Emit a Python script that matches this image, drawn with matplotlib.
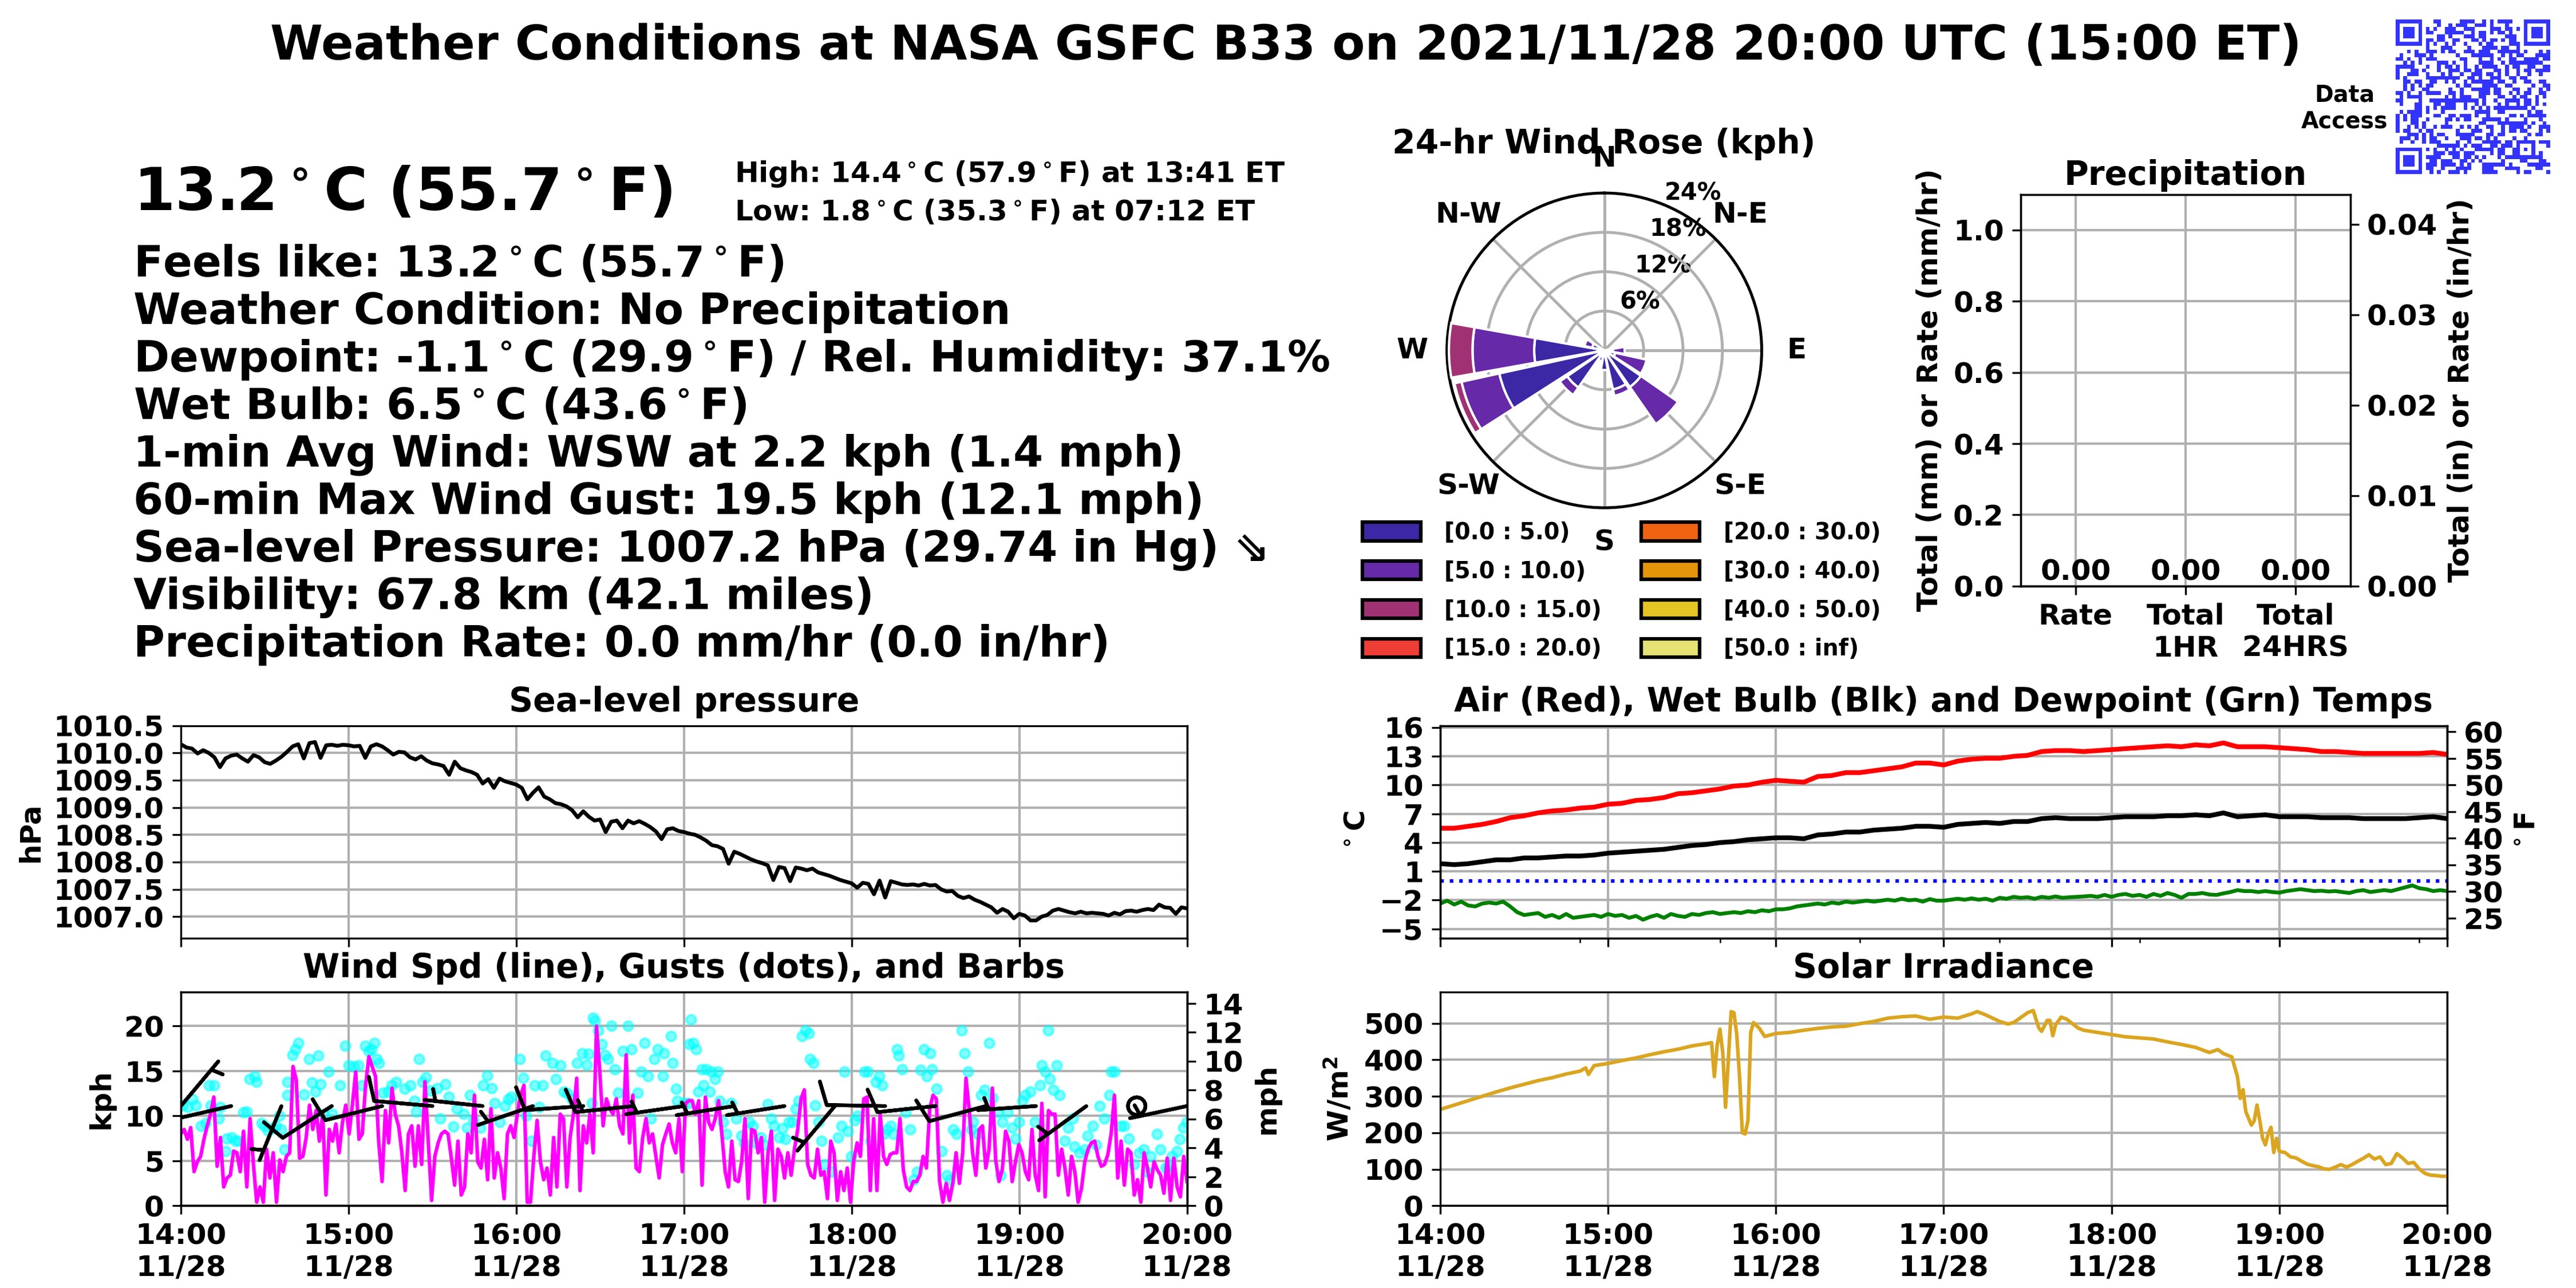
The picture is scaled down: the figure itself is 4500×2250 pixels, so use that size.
import hashlib
import numpy as np
import pandas as pd
import matplotlib
matplotlib.use('Agg')
import matplotlib.pyplot as plt
import matplotlib.dates as mdates
from matplotlib.patches import Patch
from matplotlib.colors import ListedColormap

plt.rcParams['font.family'] = ['DejaVu Sans']
plt.rcParams['font.weight'] = 'bold'
plt.rcParams['axes.titleweight'] = 'bold'
plt.rcParams['axes.labelweight'] = 'bold'
plt.rcParams['font.size'] = 12
plt.rcParams['axes.titlesize'] = 14
plt.rcParams['grid.color'] = '#b0b0b0'
plt.rcParams['grid.linewidth'] = 1.0

T0 = pd.Timestamp('2021-11-28 14:00')

# ---- data ----
# sea-level pressure (hPa), every 2 min from 14:00
pres_hpa = [
    1010.16, 1010.10, 1010.08, 1009.99, 1010.05, 1010.00, 1009.92, 1009.74, 1009.90, 1009.95,
    1009.97, 1009.90, 1009.84, 1009.96, 1009.92, 1009.83, 1009.80, 1009.86, 1009.93, 1010.02,
    1010.12, 1010.16, 1009.90, 1010.18, 1010.20, 1009.91, 1010.14, 1010.15, 1010.13, 1010.15,
    1010.14, 1010.12, 1010.13, 1009.91, 1010.12, 1010.16, 1010.12, 1010.05, 1009.97, 1010.02,
    1010.01, 1009.92, 1009.88, 1009.94, 1009.86, 1009.81, 1009.79, 1009.76, 1009.60, 1009.84,
    1009.72, 1009.68, 1009.65, 1009.60, 1009.44, 1009.52, 1009.36, 1009.53, 1009.48, 1009.45,
    1009.42, 1009.36, 1009.15, 1009.27, 1009.37, 1009.20, 1009.15, 1009.08, 1009.06, 1009.02,
    1008.95, 1008.82, 1008.93, 1008.83, 1008.76, 1008.78, 1008.55, 1008.74, 1008.76, 1008.62,
    1008.76, 1008.71, 1008.75, 1008.70, 1008.64, 1008.56, 1008.42, 1008.60, 1008.62, 1008.57,
    1008.55, 1008.52, 1008.50, 1008.45, 1008.39, 1008.31, 1008.29, 1008.24, 1007.97, 1008.19,
    1008.15, 1008.10, 1008.05, 1008.01, 1007.98, 1007.94, 1007.67, 1007.91, 1007.89, 1007.65,
    1007.90, 1007.88, 1007.85, 1007.88, 1007.81, 1007.78, 1007.75, 1007.71, 1007.67, 1007.64,
    1007.61, 1007.53, 1007.62, 1007.60, 1007.41, 1007.66, 1007.35, 1007.65, 1007.62, 1007.59,
    1007.58, 1007.59, 1007.57, 1007.60, 1007.57, 1007.58, 1007.50, 1007.46, 1007.47, 1007.38,
    1007.34, 1007.37, 1007.31, 1007.27, 1007.22, 1007.17, 1007.07, 1007.14, 1007.09, 1006.97,
    1007.05, 1007.02, 1006.93, 1006.93, 1007.00, 1007.03, 1007.11, 1007.14, 1007.11, 1007.08,
    1007.06, 1007.09, 1007.06, 1007.07, 1007.06, 1007.05, 1007.02, 1007.07, 1007.04, 1007.10,
    1007.11, 1007.09, 1007.12, 1007.14, 1007.12, 1007.22, 1007.17, 1007.16, 1007.05, 1007.17,
    1007.15]

# air and wet bulb temperature (C), every 5 min
air_c = [
    5.5, 5.5, 5.7, 5.9, 6.2, 6.6, 6.8, 7.1, 7.3, 7.4, 7.6, 7.7,
    8.0, 8.1, 8.4, 8.5, 8.7, 9.1, 9.2, 9.4, 9.6, 9.9, 10.0, 10.3,
    10.5, 10.4, 10.3, 10.9, 11.0, 11.3, 11.3, 11.5, 11.7, 11.9, 12.3, 12.3,
    12.1, 12.5, 12.7, 12.8, 12.8, 13.0, 13.1, 13.5, 13.6, 13.6, 13.5, 13.6,
    13.7, 13.8, 13.9, 14.0, 14.1, 14.0, 14.2, 14.1, 14.4, 14.0, 14.0, 14.0,
    13.9, 13.8, 13.7, 13.5, 13.5, 13.4, 13.3, 13.3, 13.3, 13.3, 13.3, 13.4,
    13.2]
wetbulb_c = [
    1.8, 1.7, 1.8, 2.0, 2.2, 2.2, 2.4, 2.4, 2.5, 2.6, 2.6, 2.7,
    2.9, 3.0, 3.1, 3.2, 3.3, 3.5, 3.7, 3.8, 4.0, 4.1, 4.3, 4.4,
    4.5, 4.5, 4.4, 4.8, 4.9, 5.1, 5.1, 5.3, 5.4, 5.5, 5.7, 5.7,
    5.6, 5.9, 6.0, 6.1, 6.0, 6.2, 6.2, 6.5, 6.6, 6.5, 6.5, 6.5,
    6.6, 6.7, 6.7, 6.7, 6.8, 6.8, 6.9, 6.8, 7.1, 6.7, 6.8, 6.9,
    6.7, 6.7, 6.7, 6.6, 6.6, 6.6, 6.5, 6.5, 6.5, 6.5, 6.6, 6.7,
    6.5]
# dewpoint (C), every 2.5 min
dew_c = [
    -2.36, -2.06, -2.46, -2.16, -2.56, -2.66, -2.36, -2.26, -2.36, -2.16, -2.66, -3.26,
    -3.56, -3.45, -3.35, -3.75, -3.55, -3.85, -3.45, -3.85, -3.75, -3.65, -3.55, -3.75,
    -3.45, -3.65, -3.55, -3.85, -3.65, -4.05, -3.75, -3.55, -3.85, -3.45, -3.65, -3.75,
    -3.45, -3.55, -3.35, -3.26, -3.45, -3.35, -3.26, -3.35, -3.16, -3.26, -3.06, -3.16,
    -2.96, -2.96, -2.86, -2.66, -2.56, -2.46, -2.36, -2.46, -2.26, -2.36, -2.16, -2.26,
    -2.16, -2.06, -2.16, -2.06, -1.96, -2.06, -1.86, -2.02, -1.96, -2.16, -1.90, -2.06,
    -2.06, -1.96, -1.86, -1.96, -1.82, -1.96, -1.86, -2.06, -1.76, -1.86, -1.66, -1.76,
    -1.70, -1.86, -1.66, -1.76, -1.62, -1.76, -1.70, -1.66, -1.62, -1.56, -1.66, -1.46,
    -1.66, -1.46, -1.36, -1.56, -1.46, -1.66, -1.36, -1.56, -1.26, -1.46, -1.76, -1.36,
    -1.36, -1.26, -1.42, -1.46, -1.30, -1.16, -0.96, -1.06, -1.06, -1.16, -1.06, -1.16,
    -1.22, -1.06, -0.96, -0.86, -0.96, -1.06, -1.02, -1.10, -1.06, -1.16, -1.26, -1.06,
    -0.96, -1.16, -1.06, -0.96, -1.06, -0.86, -0.67, -0.47, -0.76, -0.86, -1.06, -0.96,
    -1.06]

# solar irradiance (W/m2) at minutes after 14:00
solar_min = [
    0, 5, 10, 15, 20, 25, 30, 35, 40, 45, 50, 52, 53, 55, 60, 65, 70, 75, 80, 85,
    90, 95, 97, 98, 99, 100, 101, 102, 103, 104, 105, 106, 107, 108, 109, 110, 111, 112, 114, 116,
    120, 125, 130, 135, 140, 145, 150, 155, 160, 165, 170, 175, 180, 185, 190, 192, 195, 200, 203, 205,
    210, 212, 214, 215, 217, 218, 219, 220, 222, 224, 226, 228, 230, 235, 240, 245, 250, 255, 260, 265,
    270, 275, 278, 280, 283, 285, 286, 287, 288, 290, 291, 292, 293, 294, 295, 296, 297, 298, 299, 300,
    302, 304, 306, 308, 310, 312, 314, 316, 318, 320, 322, 324, 326, 328, 330, 332, 334, 336, 338, 340,
    342, 344, 346, 348, 350, 352, 354, 356, 358, 360]
solar_wm2 = [
    264, 276, 288, 300, 312, 323, 333, 343, 351, 361, 369, 378, 360, 384, 390, 398, 405, 414, 422, 429,
    438, 444, 447, 354, 440, 484, 420, 270, 400, 532, 529, 470, 354, 200, 197, 233, 475, 502, 487, 464,
    472, 475, 481, 486, 490, 492, 499, 505, 514, 518, 520, 511, 517, 514, 526, 532, 523, 505, 498, 502,
    529, 535, 487, 478, 508, 508, 466, 496, 517, 511, 499, 487, 481, 475, 469, 463, 460, 457, 449, 442,
    434, 420, 428, 417, 408, 354, 294, 318, 258, 221, 233, 276, 233, 185, 167, 197, 215, 146, 185, 149,
    146, 134, 131, 122, 114, 110, 107, 101, 100, 106, 113, 106, 113, 122, 130, 140, 128, 134, 113, 116,
    143, 131, 116, 119, 101, 89, 84, 83, 81, 81]

# 1-min average wind speed (kph), evenly spaced 14:00-20:00
wind_kph = [
    8.0, 8.5, 7.4, 8.7, 3.8, 4.9, 5.5, 7.4, 8.9, 10.2, 12.1, 4.4, 7.6, 2.1, 3.1, 3.4, 6.1, 5.9, 3.8, 8.3,
    2.1, 9.7, 4.6, 0.4, 2.1, 0.4, 6.3, 3.1, 5.9, 0.4, 5.1, 3.8, 5.5, 5.9, 15.5, 14.0, 5.3, 5.5, 7.6, 11.2,
    8.5, 10.6, 7.2, 10.2, 1.2, 8.5, 7.2, 9.1, 5.9, 9.3, 11.2, 8.0, 11.2, 14.9, 7.4, 8.0, 13.4, 16.6, 15.5, 14.4,
    7.0, 2.7, 10.6, 7.0, 13.1, 10.2, 8.9, 5.9, 1.7, 8.0, 8.9, 4.4, 8.9, 4.6, 13.8, 7.2, 0.6, 5.5, 7.0, 8.0,
    8.3, 8.0, 5.3, 2.3, 7.2, 1.2, 2.1, 8.0, 5.9, 12.3, 4.9, 4.2, 7.4, 2.9, 10.8, 3.1, 5.9, 4.2, 0.8, 8.0,
    8.9, 7.6, 10.2, 12.3, 13.4, 0.4, 0.4, 5.5, 9.5, 4.9, 2.9, 4.2, 1.2, 7.6, 2.1, 10.2, 9.7, 2.1, 7.6, 10.2,
    14.2, 1.7, 8.9, 7.0, 10.2, 5.9, 20.0, 14.9, 8.9, 11.9, 10.8, 10.2, 11.9, 8.9, 8.0, 16.8, 7.0, 12.3, 4.2, 3.8,
    7.6, 9.7, 7.0, 8.0, 5.5, 3.1, 6.8, 8.0, 9.1, 7.0, 5.9, 9.7, 3.8, 11.4,
    11.7, 11.7, 10.2, 11.7, 2.3, 12.1, 9.3, 8.5, 9.7, 11.7, 8.0, 3.8, 2.1, 7.2, 2.9, 2.7, 4.9, 9.7, 0.8, 8.5,
    8.3, 5.9, 7.6, 0.4, 5.9, 8.3, 0.6, 6.3, 5.5, 3.1, 5.9, 3.4, 6.3, 8.5, 11.9, 12.9, 4.6, 3.4, 3.1, 6.3,
    3.4, 3.8, 0.8, 7.2, 5.9, 0.6, 3.8, 1.7, 4.2, 0.4, 5.1, 7.0, 5.5, 11.9, 12.1, 1.7, 9.7, 1.7, 10.2, 5.5,
    4.6, 5.7, 5.9, 5.9, 9.7, 4.0, 2.1, 1.7, 2.7, 2.7, 3.4, 5.5, 4.2, 10.8, 12.3, 11.9, 2.7, 0.4, 2.5, 0.6,
    2.5, 5.9, 2.5, 5.9, 14.2, 10.6, 5.9, 3.4, 8.5, 8.9, 4.2, 6.3, 13.1, 5.1, 2.7, 4.0, 8.3, 7.2, 2.7, 4.9,
    6.8, 5.9, 3.8, 2.9, 8.5, 3.4, 1.7, 11.4, 1.0, 10.6, 10.2, 10.2, 3.4, 6.3, 4.2, 1.2, 5.5, 3.8, 0.4, 1.9,
    4.9, 6.3, 7.0, 7.2, 5.5, 4.4, 4.6, 5.7, 8.0, 12.3, 3.1, 7.2, 2.3, 6.3, 5.9, 1.2, 2.9, 0.4, 5.9, 4.2,
    2.1, 4.9, 4.0, 3.4, 1.4, 5.3, 0.6, 5.3, 2.1, 1.0, 5.5, 2.7]

# wind gusts (kph) at minutes after 14:00
gust_min = [
    0.6, 2.4, 4.1, 5.3, 7.1, 8.8, 10.0, 10.6, 12.0, 13.5, 14.1, 15.9, 16.5, 18.2, 19.4, 20.6, 22.4, 23.5, 24.7, 26.5,
    27.1, 28.8, 30.0, 31.2, 32.9, 34.1, 35.3, 35.9, 37.1, 38.2, 38.2, 40.0, 40.9, 42.1, 44.1, 45.9, 47.0, 48.2, 49.2, 50.0,
    51.2, 52.9, 54.1, 57.0, 58.8, 60.0, 61.8, 63.5, 64.7, 65.9, 67.1, 68.2, 69.2, 70.0, 70.8, 72.3, 74.1, 75.3, 77.1, 80.0,
    82.1, 83.5, 84.1, 85.3, 86.5, 87.6, 89.4, 91.8, 92.9, 94.7, 95.9, 97.6, 98.8, 101.2, 102.4, 103.5, 104.7, 107.1, 108.2, 109.6,
    111.2, 112.3, 114.1, 115.9, 117.1, 118.2, 121.2, 122.4, 123.5, 125.3, 126.5, 128.2, 129.4, 130.4, 132.9, 134.1, 135.9, 137.1, 138.2, 140.0,
    141.8, 143.5, 145.3, 145.9, 147.1, 147.5, 148.2, 149.4, 150.6, 151.8, 152.9, 154.1, 155.3, 156.5, 158.2, 160.0, 161.2, 163.5, 164.7, 165.9,
    167.1, 168.2, 169.4, 170.6, 172.4, 172.9, 175.3, 175.9, 177.1, 177.6, 180.0, 181.8, 182.5,
    181.6, 183.4, 184.4, 185.2, 186.4, 187.0, 188.1, 189.3, 189.9, 191.1, 192.2, 192.8, 194.0, 195.2, 196.9, 198.7, 200.5, 201.6, 203.4, 204.6,
    205.8, 207.5, 208.7, 209.9, 211.1, 212.2, 214.0, 215.2, 216.3, 217.5, 218.7, 219.9, 221.0, 222.2, 223.4, 224.6, 225.2, 226.3, 226.9, 228.1,
    229.3, 230.5, 232.8, 235.2, 236.3, 237.5, 238.7, 239.9, 241.0, 242.2, 244.6, 245.7, 246.9, 248.7, 249.9, 251.0, 251.6, 252.8, 254.0, 255.1,
    256.3, 256.9, 258.1, 259.3, 261.0, 262.2, 263.4, 264.6, 265.8, 266.9, 268.1, 268.7, 270.4, 272.2, 274.0, 275.1, 276.3, 277.5, 279.3, 280.4,
    281.6, 282.8, 283.4, 285.1, 286.3, 287.5, 289.3, 290.4, 292.2, 293.4, 294.0, 295.7, 297.5, 298.7, 299.8, 301.0, 302.2, 304.0, 305.7, 307.5,
    308.1, 309.3, 310.4, 311.0, 312.2, 313.4, 314.5, 316.3, 317.5, 319.2, 319.8, 321.6, 323.4, 324.5, 326.3, 327.5, 328.7, 330.4, 332.2, 332.8,
    334.0, 336.3, 337.5, 339.2, 341.0, 342.8, 344.5, 345.7, 346.9, 349.2, 350.4, 352.2, 353.3, 354.5, 356.3, 357.5, 358.6, 359.8]
gust_kph = [
    11.2, 11.0, 11.9, 11.2, 8.9, 9.2, 13.4, 11.2, 13.4, 9.7, 11.0, 6.1, 7.5, 7.6, 7.2, 7.2, 10.4, 10.5, 14.1, 14.4,
    13.8, 9.2, 8.9, 8.4, 8.6, 8.9, 10.0, 8.5, 6.3, 13.8, 12.3, 16.8, 17.4, 18.1, 12.4, 16.3, 13.7, 12.7, 16.7, 13.5,
    10.2, 14.9, 10.2, 13.4, 17.8, 15.6, 15.5, 15.6, 13.4, 17.8, 17.2, 17.4, 18.1, 16.3, 15.9, 12.6, 12.7, 13.4, 13.8, 13.0,
    13.4, 11.7, 10.5, 16.3, 13.8, 14.3, 12.8, 13.1, 9.7, 13.5, 12.1, 8.8, 10.8, 10.2, 8.7, 12.3, 9.5, 8.7, 13.4, 14.5,
    13.1, 11.4, 9.3, 11.1, 11.9, 12.1, 16.3, 14.2, 10.0, 7.2, 13.4, 11.0, 13.4, 16.7, 15.9, 14.1, 15.6, 12.7, 12.5, 11.9,
    15.9, 17.0, 15.7, 16.9, 11.4, 20.9, 20.6, 19.5, 18.0, 16.8, 16.3, 20.0, 15.2, 12.6, 17.2, 20.0, 17.4, 12.6, 14.9, 18.1,
    14.4, 9.7, 16.3, 17.4, 14.4, 17.0, 18.9, 15.9, 13.0, 11.7, 11.4, 18.0, 20.7,
    11.4, 18.1, 17.4, 12.7, 15.2, 13.4, 15.2, 12.7, 14.9, 14.1, 14.9, 11.7, 9.3, 8.0, 11.4, 9.7, 7.8, 7.0, 9.3, 8.9,
    7.0, 7.6, 6.8, 11.3, 9.7, 8.9, 7.6, 8.6, 7.4, 9.3, 9.3, 10.8, 11.7, 18.9, 19.5, 19.2, 16.3, 15.9, 11.2, 9.3,
    7.2, 4.6, 3.8, 7.6, 8.9, 14.9, 8.3, 5.5, 9.5, 10.0, 14.9, 14.9, 7.2, 13.8, 14.4, 13.4, 8.0, 8.5, 8.9, 8.0,
    17.4, 16.7, 15.2, 10.4, 8.5, 2.9, 3.8, 15.1, 17.4, 14.4, 17.0, 15.2, 13.0, 6.1, 3.4, 2.9, 8.5, 8.0, 19.5, 17.0,
    14.9, 8.5, 9.3, 8.0, 12.3, 12.9, 18.1, 12.0, 10.4, 3.4, 9.3, 10.4, 8.7, 7.5, 9.3, 11.7, 12.3, 12.7, 9.3, 13.4,
    15.6, 14.9, 19.5, 14.1, 12.9, 15.6, 12.3, 7.2, 8.7, 9.7, 6.6, 5.9, 6.3, 7.8, 8.9, 6.8, 11.1, 9.7, 12.3, 14.9,
    14.9, 8.9, 8.9, 7.5, 4.6, 5.9, 6.3, 3.8, 5.5, 8.0, 6.3, 4.2, 4.3, 5.5, 6.1, 7.4, 8.7, 9.3]

# wind barbs every 18 min: direction wind blows from (deg) and speed (kph)
barb_min = list(range(0, 361, 18))
barb_dir = [40, 257, 202, 237, 256, 275, 276, 251, 266, 264, 262,
            261, 261, 220, 271, 264, 255, 266, 234, 0, 258]
barb_kph = [5, 10, 5, 10, 10, 10, 5, 5, 10, 15, 5,
            5, 5, 5, 10, 10, 10, 5, 5, 0, 5]
barb_level = 11.1

# 24-hr wind rose, % of time per 16 sectors (N, NNE, ... NNW)
rose_0_5 = [0, 0, 0, 0, 1.3, 1.7, 6.8, 6.1, 3.0, 1.7, 6.9, 16.4, 10.7, 1.9, 0, 0]
rose_5_10 = [0, 0, 0, 0, 1.8, 4.9, 6.9, 1.0, 0, 0, 1.4, 5.9, 9.4, 1.2, 0, 0]
rose_10_15 = [0, 0, 0, 0, 0, 0, 0, 0, 0, 0, 0, 1.1, 3.6, 0, 0, 0]
rose_bins = ['[0.0 : 5.0)', '[5.0 : 10.0)', '[10.0 : 15.0)', '[15.0 : 20.0)',
             '[20.0 : 30.0)', '[30.0 : 40.0)', '[40.0 : 50.0)', '[50.0 : inf)']
rose_colors = ['#3c27a5', '#6629a8', '#a03274', '#ee3e36',
               '#f06411', '#e5950a', '#e5c524', '#e6e274']

precip_cats = ['Rate', 'Total\n1HR', 'Total\n24HRS']
precip_mm = [0.0, 0.0, 0.0]

info_lines = [
    r'Feels like: 13.2$^\circ$C (55.7$^\circ$F)',
    'Weather Condition: No Precipitation',
    r'Dewpoint: -1.1$^\circ$C (29.9$^\circ$F) / Rel. Humidity: 37.1%',
    r'Wet Bulb: 6.5$^\circ$C (43.6$^\circ$F)',
    '1-min Avg Wind: WSW at 2.2 kph (1.4 mph)',
    '60-min Max Wind Gust: 19.5 kph (12.1 mph)',
    'Sea-level Pressure: 1007.2 hPa (29.74 in Hg) \u21d8',
    'Visibility: 67.8 km (42.1 miles)',
    'Precipitation Rate: 0.0 mm/hr (0.0 in/hr)',
]


def at(minutes):
    return T0 + pd.to_timedelta(np.asarray(minutes, dtype=float), unit='min')


def time_axis(ax, labels=True):
    ax.set_xlim(T0, T0 + pd.Timedelta(hours=6))
    ax.xaxis.set_major_locator(mdates.HourLocator())
    ax.xaxis.set_major_formatter(mdates.DateFormatter('%H:%M\n%m/%d'))
    ax.grid(True)
    if not labels:
        ax.tick_params(labelbottom=False)


fig = plt.figure(figsize=(15, 7.5), dpi=300)

fig.text(0.4991, 0.9644,
         'Weather Conditions at NASA GSFC B33 on 2021/11/28 20:00 UTC (15:00 ET)',
         ha='center', va='center', fontsize=20)

# current conditions text block
fig.text(0.0518, 0.8369, r'13.2$^\circ$C (55.7$^\circ$F)', fontsize=25, va='baseline')
fig.text(0.2851, 0.8585, r'High: 14.4$^\circ$C (57.9$^\circ$F) at 13:41 ET', fontsize=12, va='baseline')
fig.text(0.2851, 0.8288, r'Low: 1.8$^\circ$C (35.3$^\circ$F) at 07:12 ET', fontsize=12, va='baseline')
for k, line in enumerate(info_lines):
    fig.text(0.0518, 0.7855 - k * 0.03689, line, fontsize=18, va='baseline')

# QR-like "Data Access" badge
n = 41
bits = []
seed = b'gsfc-b33-weather-data-access'
while len(bits) < n * n:
    seed = hashlib.sha256(seed).digest()
    bits.extend(np.unpackbits(np.frombuffer(seed, dtype=np.uint8)).tolist())
qr = np.array(bits[:n * n]).reshape(n, n)
finder = np.ones((7, 7), int)
finder[1:6, 1:6] = 0
finder[2:5, 2:5] = 1
qr[:8, :8] = 0
qr[:8, -8:] = 0
qr[-8:, :8] = 0
qr[:7, :7] = finder
qr[:7, -7:] = finder
qr[-7:, :7] = finder
align = np.ones((5, 5), int)
align[1:4, 1:4] = 0
align[2, 2] = 1
qr[n - 9:n - 4, n - 9:n - 4] = align
ax_q = fig.add_axes([0.930, 0.865, 0.060, 0.120])
ax_q.imshow(qr, cmap=ListedColormap(['white', '#3333ff']), interpolation='nearest')
ax_q.axis('off')
fig.text(0.9102, 0.9156, 'Data\nAccess', ha='center', va='center', fontsize=9.5,
         multialignment='center')

# wind rose
ax_r = fig.add_axes([0.5617, 0.6056, 0.1222, 0.2447], projection='polar')
ax_r.set_theta_zero_location('N')
ax_r.set_theta_direction(-1)
theta = np.deg2rad(np.arange(16) * 22.5)
width = np.deg2rad(22.5) * 0.9
base = np.zeros(16)
for vals, col in zip([rose_0_5, rose_5_10, rose_10_15], rose_colors):
    vals = np.asarray(vals, dtype=float)
    keep = vals > 0
    ax_r.bar(theta[keep], vals[keep], width=width, bottom=base[keep],
             color=col, edgecolor='white', linewidth=1.0, zorder=3)
    base = base + vals
ax_r.set_xticks(np.deg2rad(np.arange(0, 360, 45)))
ax_r.set_xticklabels(['N', 'N-E', 'E', 'S-E', 'S', 'S-W', 'W', 'N-W'])
ax_r.set_ylim(0, 24)
ax_r.set_yticks([6, 12, 18, 24])
ax_r.set_yticklabels(['6%', '12%', '18%', '24%'], fontsize=10)
ax_r.set_rlabel_position(22.5)
ax_r.grid(True, color='#b0b0b0', linewidth=1.2)
ax_r.tick_params(axis='x', pad=4)
ax_r.spines['polar'].set_linewidth(1.2)
fig.text(0.6227, 0.8884, '24-hr Wind Rose (kph)', ha='center', va='center', fontsize=14)
handles = [Patch(facecolor=c, edgecolor='black', linewidth=1.5) for c in rose_colors]
fig.legend(handles, rose_bins, ncol=2, loc='upper left', bbox_to_anchor=(0.5289, 0.5950),
           frameon=False, fontsize=9.5, handlelength=2.58, handleheight=0.88,
           handletextpad=1.04, columnspacing=1.75, labelspacing=0.7,
           borderaxespad=0, borderpad=0)

# precipitation
ax_pr = fig.add_axes([0.7844, 0.5450, 0.1280, 0.3040])
bars = ax_pr.bar(range(3), precip_mm, width=0.5, color='#1f77b4', zorder=3)
ax_pr.bar_label(bars, fmt='%.2f', fontsize=12)
ax_pr.set_xticks(range(3))
ax_pr.set_xticklabels(precip_cats)
ax_pr.set_xlim(-0.5, 2.5)
ax_pr.set_ylim(0, 1.1)
ax_pr.set_yticks(np.arange(0, 1.01, 0.2))
ax_pr.set_ylabel('Total (mm) or Rate (mm/hr)')
ax_pr.set_title('Precipitation', pad=4)
ax_pr.grid(True)
ax_pr2 = ax_pr.twinx()
ax_pr2.set_ylim(0, 1.1 / 25.4)
ax_pr2.set_yticks(np.arange(0, 0.041, 0.01))
ax_pr2.yaxis.set_major_formatter('{x:.2f}')
ax_pr2.set_ylabel('Total (in) or Rate (in/hr)')

# sea-level pressure
ax_p = fig.add_axes([0.0702, 0.2714, 0.3906, 0.1652])
ax_p.plot(at(np.arange(len(pres_hpa)) * 2), pres_hpa, color='black', lw=1.6)
ax_p.set_ylim(1006.6, 1010.5)
ax_p.set_yticks(np.arange(1007.0, 1010.51, 0.5))
ax_p.yaxis.set_major_formatter('{x:.1f}')
ax_p.set_ylabel('hPa')
ax_p.set_title('Sea-level pressure')
time_axis(ax_p, labels=False)

# wind speed, gusts and barbs
ax_w = fig.add_axes([0.0702, 0.0638, 0.3906, 0.1661])
ax_w.plot(at(gust_min), gust_kph, 'o', color='cyan', alpha=0.5, ms=4, zorder=2)
ax_w.plot(at(np.linspace(0, 360, len(wind_kph))), wind_kph, color='magenta', lw=1.5, zorder=3)
bd = np.deg2rad(barb_dir)
bs = np.asarray(barb_kph, dtype=float)
ax_w.barbs(mdates.date2num(at(barb_min)), np.full(len(barb_min), barb_level),
           -bs * np.sin(bd), -bs * np.cos(bd), length=7, pivot='tip', lw=1.5, zorder=4)
ax_w.set_ylim(0, 23.8)
ax_w.set_yticks([0, 5, 10, 15, 20])
ax_w.set_ylabel('kph')
ax_w.set_title('Wind Spd (line), Gusts (dots), and Barbs')
time_axis(ax_w)
ax_w2 = ax_w.twinx()
ax_w2.set_ylim(0, 23.8 / 1.609)
ax_w2.set_yticks(range(0, 15, 2))
ax_w2.set_ylabel('mph')

# temperatures
ax_t = fig.add_axes([0.5591, 0.2714, 0.3909, 0.1652])
ax_t.plot(at(np.arange(len(air_c)) * 5), air_c, color='red', lw=2.0)
ax_t.plot(at(np.arange(len(wetbulb_c)) * 5), wetbulb_c, color='black', lw=2.0)
ax_t.plot(at(np.arange(len(dew_c)) * 2.5), dew_c, color='green', lw=1.6)
ax_t.axhline(0, color='blue', ls=':', lw=1.5)
ax_t.set_ylim(-6.0, 16.2)
ax_t.set_yticks(range(-5, 17, 3))
ax_t.set_ylabel(r'$^\circ$C')
ax_t.set_title('Air (Red), Wet Bulb (Blk) and Dewpoint (Grn) Temps')
time_axis(ax_t, labels=False)
ax_t.set_xticks(at([50, 100, 150, 200, 250, 300, 350]), minor=True)
ax_t2 = ax_t.twinx()
ax_t2.set_ylim(-6.0 * 1.8 + 32, 16.2 * 1.8 + 32)
ax_t2.set_yticks(range(25, 61, 5))
ax_t2.set_ylabel(r'$^\circ$F')

# solar irradiance
ax_s = fig.add_axes([0.5591, 0.0638, 0.3909, 0.1661])
ax_s.plot(at(solar_min), solar_wm2, color='goldenrod', lw=1.5)
ax_s.set_ylim(0, 586)
ax_s.set_yticks(range(0, 501, 100))
ax_s.set_ylabel('W/m$^2$')
ax_s.set_title('Solar Irradiance')
time_axis(ax_s)

fig.savefig('out.png', dpi=300)
